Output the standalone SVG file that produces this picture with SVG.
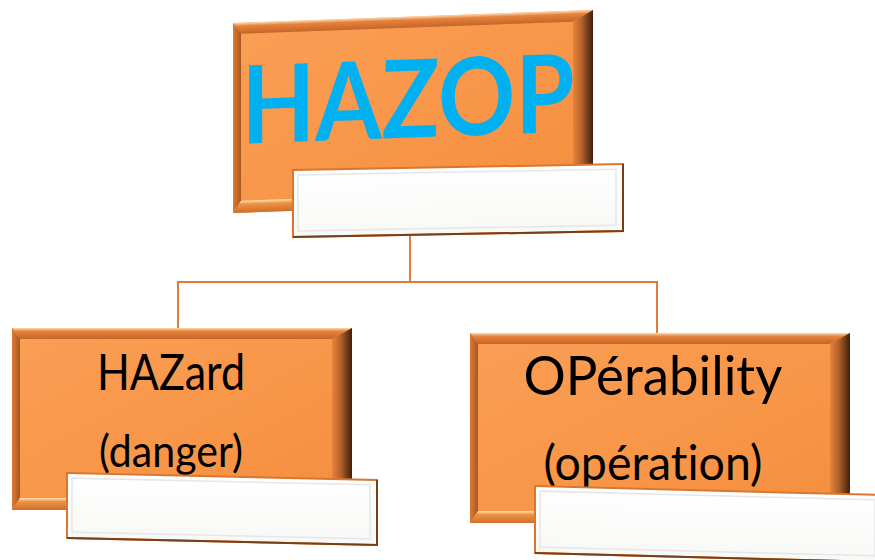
<svg xmlns="http://www.w3.org/2000/svg" width="875" height="560" viewBox="0 0 875 560">
  <defs>
    <linearGradient id="gFace" x1="0" y1="0" x2="1" y2="1">
      <stop offset="0" stop-color="#FA9F55"/>
      <stop offset="1" stop-color="#F68E3E"/>
    </linearGradient>
    <linearGradient id="gTop" x1="0" y1="0" x2="0" y2="1">
      <stop offset="0" stop-color="#FDD9B0"/>
      <stop offset="0.3" stop-color="#E8823A"/>
      <stop offset="1" stop-color="#C4652A"/>
    </linearGradient>
    <linearGradient id="gLeft" x1="0" y1="0" x2="1" y2="0">
      <stop offset="0" stop-color="#E07B34"/>
      <stop offset="1" stop-color="#A8561F"/>
    </linearGradient>
    <linearGradient id="gRight" x1="0" y1="0" x2="1" y2="0">
      <stop offset="0" stop-color="#E8843C"/>
      <stop offset="0.45" stop-color="#B0602A"/>
      <stop offset="1" stop-color="#3E200C"/>
    </linearGradient>
    <linearGradient id="gBottom" x1="0" y1="0" x2="0" y2="1">
      <stop offset="0" stop-color="#FFE3A8"/>
      <stop offset="0.3" stop-color="#EC9347"/>
      <stop offset="1" stop-color="#D26E28"/>
    </linearGradient>
    <linearGradient id="gWhite" x1="0" y1="0" x2="0" y2="1">
      <stop offset="0" stop-color="#FFFFFF"/>
      <stop offset="1" stop-color="#F8F8F6"/>
    </linearGradient>
  </defs>
  <style>
    .face { fill: url(#gFace); }
    .btop { fill: url(#gTop); }
    .bleft { fill: url(#gLeft); }
    .bright { fill: url(#gRight); }
    .bbot { fill: url(#gBottom); }
    .card { fill: url(#gWhite); stroke: #D9762F; stroke-width: 2; }
    .card-in { fill: none; stroke: #E6E6E6; stroke-width: 1.5; }
    .card-edge { fill: none; stroke: #7A3E14; stroke-width: 2; }
    .link { fill: none; stroke: #E07B39; stroke-width: 2; }
    .title { font-family: Lato, "Open Sans", sans-serif; font-weight: 700; fill: #00B0F0; }
    .label { font-family: Lato, "Open Sans", sans-serif; fill: #000000; font-variant-ligatures: none; font-feature-settings: "liga" 0; }
  </style>

  <g id="connectors">
    <path class="link" d="M410 236 V282 M178 330 V282 H657 V335"/>
  </g>

  <!-- root node -->
  <g id="node-hazop">
    <g transform="matrix(1,-0.0362,0,1,233,23)">
      <rect class="face" x="0" y="0" width="360" height="190"/>
      <polygon class="btop" points="0,0 360,0 340,11 8,11"/>
      <polygon class="bleft" points="0,0 8,11 8,178 0,190"/>
      <polygon class="bright" points="360,0 360,190 340,178 340,11"/>
      <polygon class="bbot" points="0,190 360,190 340,178 8,178"/>
      <text class="title" x="175" y="121" font-size="108" text-anchor="middle" textLength="333" lengthAdjust="spacingAndGlyphs">HAZOP</text>
    </g>
    <g transform="matrix(1,-0.018,0,1,293,170)">
      <rect class="card" x="0" y="0" width="330" height="67"/>
      <rect class="card-in" x="5" y="5" width="318" height="56"/>
      <path class="card-edge" d="M0 67 H330 V0"/>
    </g>
  </g>

  <!-- left child -->
  <g id="node-hazard">
    <g transform="translate(12,328)">
      <rect class="face" x="0" y="0" width="340" height="182"/>
      <polygon class="btop" points="0,0 340,0 320,11 8,11"/>
      <polygon class="bleft" points="0,0 8,11 8,170 0,182"/>
      <polygon class="bright" points="340,0 340,182 320,170 320,11"/>
      <polygon class="bbot" points="0,182 340,182 320,170 8,170"/>
      <text class="label" x="159" y="62" font-size="51" text-anchor="middle" textLength="148" lengthAdjust="spacingAndGlyphs">HAZard</text>
      <text class="label" x="159" y="139" font-size="44" text-anchor="middle" textLength="144" lengthAdjust="spacingAndGlyphs">(danger)</text>
    </g>
    <g transform="matrix(1,0.0226,0,1,67,473)">
      <rect class="card" x="0" y="0" width="310" height="65"/>
      <rect class="card-in" x="5" y="5" width="298" height="54"/>
      <path class="card-edge" d="M0 65 H310 V0"/>
    </g>
  </g>

  <!-- right child -->
  <g id="node-operability">
    <g transform="translate(470,333)">
      <rect class="face" x="0" y="0" width="380" height="190"/>
      <polygon class="btop" points="0,0 380,0 360,11 8,11"/>
      <polygon class="bleft" points="0,0 8,11 8,178 0,190"/>
      <polygon class="bright" points="380,0 380,190 360,178 360,11"/>
      <polygon class="bbot" points="0,190 380,190 360,178 8,178"/>
      <text class="label" x="183" y="62" font-size="55" text-anchor="middle" textLength="259" lengthAdjust="spacingAndGlyphs">OPérability</text>
      <text class="label" x="183" y="147" font-size="48" text-anchor="middle" textLength="219" lengthAdjust="spacingAndGlyphs">(opération)</text>
    </g>
    <g transform="matrix(1,0.026,0,1,535,486)">
      <rect class="card" x="0" y="0" width="345" height="67"/>
      <rect class="card-in" x="5" y="5" width="335" height="56"/>
      <path class="card-edge" d="M0 67 H345"/>
    </g>
  </g>
</svg>
